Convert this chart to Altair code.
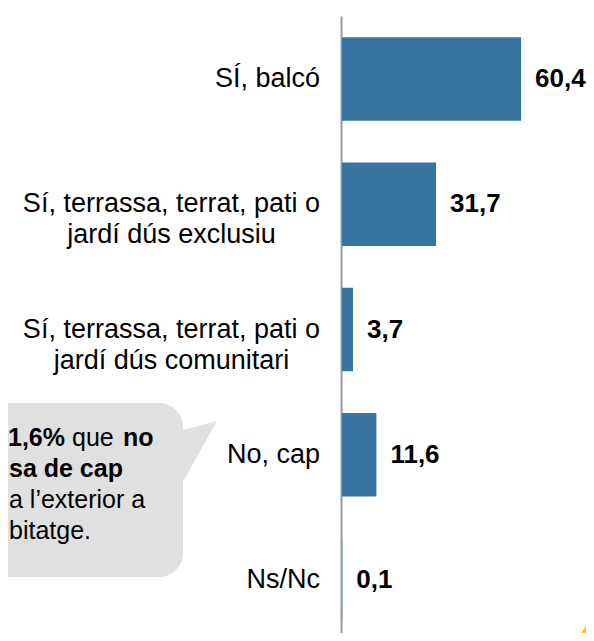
import altair as alt
import pandas as pd

# ---- data ----
categories = ["SÍ, balcó",
              "Sí, terrassa, terrat, pati o\njardí dús exclusiu",
              "Sí, terrassa, terrat, pati o\njardí dús comunitari",
              "No, cap",
              "Ns/Nc"]
values = [60.4, 31.7, 3.7, 11.6, 0.1]

callout_lines = ["1,6%", "que", "no", "sa de cap", "a l\u2019exterior a", "bitatge."]

FONT = "Liberation Sans"
BAR = "#3775A0"
GRAY_BOX = "#E0E0E0"

# approximate Arial advance widths (per 1000 em) for centring multi-line labels
W = {' ': 278, ',': 278, 'S': 667, 'Í': 278, 'N': 722, 'a': 556, 'b': 556, 'c': 500,
     'd': 556, 'e': 556, 'i': 222, 'í': 278, 'j': 222, 'l': 222, 'm': 833, 'n': 556,
     'o': 556, 'ó': 556, 'p': 556, 'r': 333, 's': 500, 't': 278, 'u': 556, 'ú': 556,
     'x': 500, '/': 278}
LABEL_SIZE = 27


def text_w(s):
    return max(sum(W.get(ch, 556) for ch in line) for line in s.split("\n")) * LABEL_SIZE / 1000


df = pd.DataFrame({
    "cat": categories,
    "val": values,
    "vlabel": [f"{v:.1f}".replace(".", ",") for v in values],
    "w": [text_w(c) for c in categories],
})

ORIGIN_X = 342   # page x of plot origin
ORIGIN_Y = 16    # page y of plot origin
PAD_LEFT = ORIGIN_X - 8
PLOT_W = 578 - PAD_LEFT
PX_PER_UNIT = 2.965

yscale = alt.Scale(domain=categories, range=[0, 627], paddingInner=0.333, paddingOuter=0.17)
xscale = alt.Scale(domain=[0, PLOT_W / PX_PER_UNIT], nice=False, zero=True)

base = alt.Chart(df)

bars = base.mark_bar(color=BAR).encode(
    x=alt.X("val:Q", scale=xscale, axis=None),
    y=alt.Y("cat:N", scale=yscale, sort=categories,
            axis=alt.Axis(labels=False, ticks=False, title=None, grid=False,
                          domainColor="#9A9A9A", domainWidth=2, offset=1)),
)

vals = base.mark_text(align="left", baseline="middle", dx=14, font=FONT,
                      fontSize=26, fontWeight="bold", color="#000000").encode(
    x=alt.X("val:Q", scale=xscale),
    y=alt.Y("cat:N", scale=yscale, sort=categories),
    text="vlabel:N",
)

labels = base.transform_calculate(
    lx="-22 - datum.w / 2"
).mark_text(align="center", baseline="middle", font=FONT, fontSize=LABEL_SIZE,
            lineBreak="\n", lineHeight=31, color="#000000").encode(
    x=alt.X("lx:Q", scale=None),
    y=alt.Y("cat:N", scale=yscale, sort=categories),
    text="cat:N",
)

one = alt.Chart(pd.DataFrame({"a": [0]}))


def px(x):
    return x - ORIGIN_X


def py(y):
    return y - ORIGIN_Y


box = one.mark_rect(color=GRAY_BOX, cornerRadius=24).encode(
    x=alt.value(px(-40)), x2=alt.value(px(183)),
    y=alt.value(py(403)), y2=alt.value(py(577)),
)

tri_df = pd.DataFrame({"x": [px(175), px(217)],
                       "y": [py(432), py(421)],
                       "y2": [py(496), py(421)]})
pointer = alt.Chart(tri_df).mark_area(color=GRAY_BOX).encode(
    x=alt.X("x:Q", scale=None),
    y=alt.Y("y:Q", scale=None),
    y2="y2:Q",
)


def frag(txt, x, ybase, bold):
    return one.mark_text(align="left", baseline="alphabetic", font=FONT, fontSize=25,
                         fontWeight="bold" if bold else "normal", color="#000000",
                         text=txt).encode(x=alt.value(px(x)), y=alt.value(py(ybase)))


callout = [
    frag(callout_lines[0], 8, 446, True),
    frag(callout_lines[1], 72, 446, False),
    frag(callout_lines[2], 123, 446, True),
    frag(callout_lines[3], 9, 477, True),
    frag(callout_lines[4], 9, 508, False),
    frag(callout_lines[5], 9, 539, False),
]

yel_df = pd.DataFrame({"x": [px(576), px(597)], "y": [py(647), py(612)]})
yellow = alt.Chart(yel_df).mark_line(color="#FFBE00", strokeWidth=5).encode(
    x=alt.X("x:Q", scale=None),
    y=alt.Y("y:Q", scale=None),
)

chart = alt.layer(box, pointer, *callout, bars, vals, labels, yellow).properties(
    width=PLOT_W, height=617,
    padding={"left": PAD_LEFT, "top": 8, "right": 0, "bottom": 0},
    autosize=alt.AutoSizeParams(type="none"),
).configure_view(stroke=None)

chart.save("out.html", embed_options={"renderer": "svg", "actions": False})
